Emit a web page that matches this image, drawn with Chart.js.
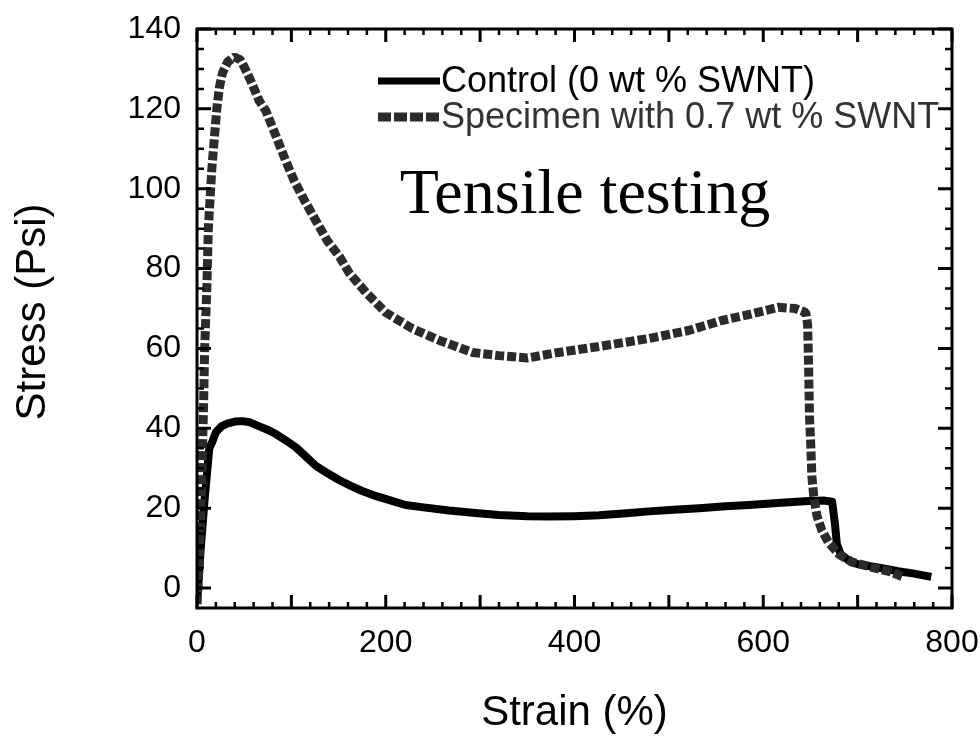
<!DOCTYPE html>
<html>
<head>
<meta charset="utf-8">
<script src="https://cdn.jsdelivr.net/npm/chart.js@4.4.1/dist/chart.umd.min.js"></script>
<style>
  body { margin: 0; background: #fff; }
  #wrap { width: 980px; height: 739px; position: relative; }
</style>
</head>
<body>
<div id="wrap"><canvas id="myChart"></canvas></div>
<script>
/* values */
const xTicks = [0, 200, 400, 600, 800];
const yTicks = [0, 20, 40, 60, 80, 100, 120, 140];

const controlStrain = [0, 4, 8, 13, 16, 20, 26, 32, 40, 48, 56, 66, 76, 84, 94, 105, 115, 126, 138, 151,
  163, 175, 190, 204, 221, 240, 267, 295, 320, 350, 373, 400, 426, 455, 479, 505, 532, 560, 585, 615,
  648, 665, 673, 676, 678, 682, 690, 700, 720, 743, 760, 778];
const controlStress = [-4, 10, 22, 35, 36.5, 39, 40.5, 41.2, 41.7, 41.8, 41.5, 40.5, 39.5, 38.5, 37, 35.2, 33, 30.6, 28.8, 27,
  25.6, 24.3, 23, 22, 20.8, 20.2, 19.4, 18.8, 18.3, 18, 17.9, 18, 18.2, 18.7, 19.2, 19.6, 20, 20.5, 20.8, 21.3,
  21.8, 21.9, 21.6, 16, 11, 8.5, 7, 6, 5.2, 4.2, 3.6, 2.8];

const swntStrain = [0, 2, 4, 5.5, 7, 8, 10.4, 12, 15.7, 18.5, 21, 23.8, 27, 32.6, 39.7, 46, 50, 57, 66, 73,
  84, 94, 103, 114, 126, 138, 151, 161, 179, 200, 228, 257, 292, 320, 350, 383, 426, 479, 521, 556,
  585, 616, 634, 645, 647, 648, 649, 650.5, 651.5, 653.5, 657, 662, 669, 680, 694, 715, 736, 748];
const swntStress = [-4, 5, 18, 32, 46, 59, 75, 90, 105, 113, 120, 125.5, 129, 131.8, 133, 132.3, 130.5, 127, 122, 119.5,
  113, 107, 102, 97, 92, 87, 83, 79, 74, 69, 65, 62, 59, 58.2, 57.6, 59, 60.5, 62.5, 64.5, 67,
  68.5, 70.3, 70, 69, 66, 56, 43, 35, 28, 23, 18, 14.5, 11.5, 8.5, 6.5, 5.2, 4, 2.8];

const seriesNames = ["Control (0 wt % SWNT)", "Specimen with 0.7 wt % SWNT"];

const toPoints = (xs, ys) => xs.map((x, i) => ({ x: x, y: ys[i] }));

const FONT = 'Arial, "Liberation Sans", sans-serif';
const GRAY = "#2b2b2b";

// frame, inward ticks on all four sides, titles, legend and the note
const decorations = {
  id: "decorations",
  afterDraw(chart) {
    const ctx = chart.ctx;
    const { left, right, top, bottom } = chart.chartArea;
    const xs = chart.scales.x, ys = chart.scales.y;
    ctx.save();
    ctx.strokeStyle = "#000";
    ctx.lineCap = "butt";

    // x ticks, minor every 20, major every 100
    for (let v = 0; v <= 800; v += 20) {
      const px = xs.getPixelForValue(v);
      const len = v % 100 === 0 ? 13 : 6;
      ctx.lineWidth = v % 100 === 0 ? 3 : 2.5;
      ctx.beginPath();
      ctx.moveTo(px, bottom); ctx.lineTo(px, bottom - len);
      ctx.moveTo(px, top); ctx.lineTo(px, top + len);
      ctx.stroke();
    }
    // y ticks, minor every 5, major every 20
    for (let v = 0; v <= 140; v += 5) {
      const py = ys.getPixelForValue(v);
      const len = v % 20 === 0 ? 14 : 7;
      ctx.lineWidth = v % 20 === 0 ? 3 : 2.5;
      ctx.beginPath();
      ctx.moveTo(left, py); ctx.lineTo(left + len, py);
      ctx.moveTo(right, py); ctx.lineTo(right - len, py);
      ctx.stroke();
    }
    ctx.lineWidth = 3;
    ctx.strokeRect(left, top, right - left, bottom - top);

    // axis titles
    ctx.fillStyle = "#000";
    ctx.font = "42px " + FONT;
    ctx.textAlign = "center";
    ctx.textBaseline = "middle";
    ctx.fillText("Strain (%)", (left + right) / 2, 713);
    ctx.save();
    ctx.translate(33, 312);
    ctx.rotate(-Math.PI / 2);
    ctx.fillText("Stress (Psi)", 0, 0);
    ctx.restore();

    // legend
    ctx.lineWidth = 7;
    ctx.beginPath();
    ctx.moveTo(378, 81); ctx.lineTo(440, 81);
    ctx.stroke();
    ctx.strokeStyle = GRAY;
    ctx.lineWidth = 9;
    ctx.setLineDash([13, 3]);
    ctx.beginPath();
    ctx.moveTo(378, 117); ctx.lineTo(442, 117);
    ctx.stroke();
    ctx.setLineDash([]);
    ctx.font = "36px " + FONT;
    ctx.textAlign = "left";
    ctx.fillStyle = "#000";
    ctx.fillText(seriesNames[0], 441, 82);
    ctx.fillStyle = "#333";
    ctx.fillText(seriesNames[1], 441, 118);

    // note
    ctx.fillStyle = "#000";
    ctx.font = '64px "Times New Roman", "Liberation Serif", serif';
    ctx.textAlign = "center";
    ctx.fillText("Tensile testing", 585, 196);
    ctx.restore();
  }
};

const initChart = (canvas) => {
  const data = {
    datasets: [
      {
        label: seriesNames[1],
        data: toPoints(swntStrain, swntStress),
        borderColor: GRAY,
        borderWidth: 9,
        borderDash: [9, 3],
        borderCapStyle: "butt",
        borderJoinStyle: "bevel",
        pointRadius: 0,
        showLine: true,
        tension: 0
      },
      {
        label: seriesNames[0],
        data: toPoints(controlStrain, controlStress),
        borderColor: "#000",
        borderWidth: 8,
        borderJoinStyle: "round",
        pointRadius: 0,
        showLine: true,
        tension: 0
      }
    ]
  };
  const config = {
    type: "scatter",
    data: data,
    options: {
      responsive: true,
      maintainAspectRatio: false,
      animation: false,
      layout: { padding: { left: 0, right: 28, top: 29, bottom: 0 } },
      plugins: { legend: { display: false }, tooltip: { enabled: false } },
      scales: {
        x: {
          type: "linear",
          min: 0,
          max: 800,
          afterBuildTicks: (scale) => { scale.ticks = xTicks.map(v => ({ value: v })); },
          afterFit: (scale) => {
            scale.height = 131;
            scale.paddingLeft = 0; scale.paddingRight = 0;
          },
          grid: { display: false, drawTicks: false },
          border: { display: false },
          ticks: { color: "#000", font: { family: FONT, size: 32 }, padding: 16, maxRotation: 0, autoSkip: false }
        },
        y: {
          type: "linear",
          min: -5,
          max: 140,
          afterBuildTicks: (scale) => { scale.ticks = yTicks.map(v => ({ value: v })); },
          afterFit: (scale) => {
            scale.width = 197;
            scale.paddingTop = 0; scale.paddingBottom = 0;
          },
          grid: { display: false, drawTicks: false },
          border: { display: false },
          ticks: { color: "#000", font: { family: FONT, size: 32 }, padding: 16, autoSkip: false }
        }
      }
    },
    plugins: [decorations]
  };
  return new Chart(canvas, config);
};

document.addEventListener("DOMContentLoaded", () => {
  initChart(document.querySelector("#myChart"));
});
</script>
</body>
</html>
